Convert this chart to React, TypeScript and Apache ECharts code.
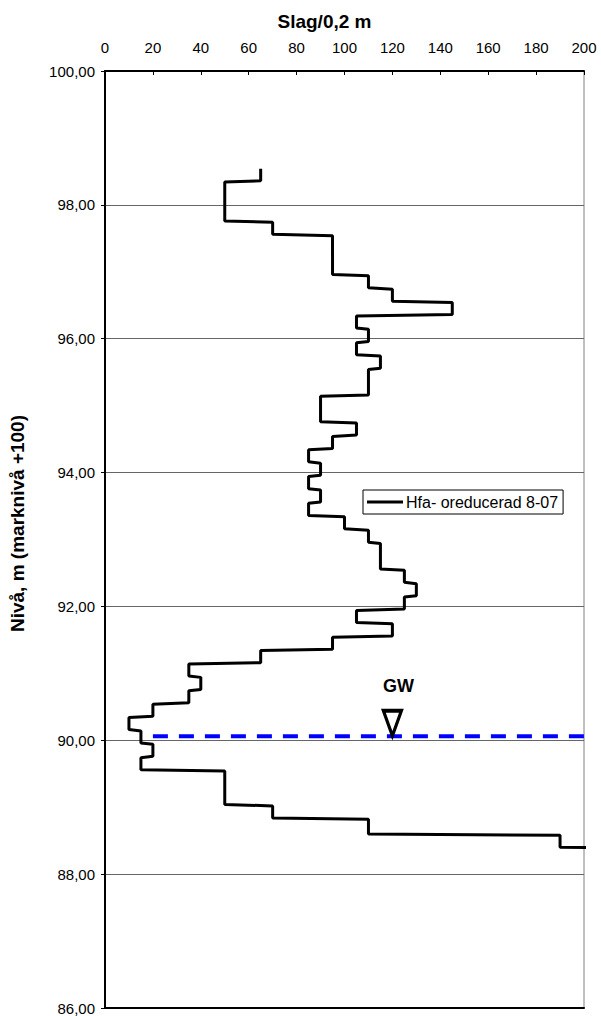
import React, { useEffect, useRef } from "react";
import * as echarts from "echarts";

// Sounding profile: blows per 0.2 m against level (ground level +100)
const blows = [65, 50, 70, 95, 110, 120, 145, 105, 110, 105, 115, 110, 90, 105, 95, 85, 90, 85, 90, 85, 100, 110, 115, 125, 130, 125, 105, 120, 95, 65, 35, 40, 35, 20, 10, 15, 20, 15, 50, 70, 110, 190, 250];
const stepTop = [98.54, 98.34, 97.74, 97.54, 96.94, 96.74, 96.54, 96.34, 96.14, 95.94, 95.74, 95.54, 95.14, 94.74, 94.54, 94.34, 94.14, 93.94, 93.74, 93.54, 93.34, 93.14, 92.94, 92.54, 92.34, 92.14, 91.94, 91.74, 91.54, 91.34, 91.14, 90.94, 90.74, 90.54, 90.34, 90.14, 89.94, 89.74, 89.54, 89.02, 88.82, 88.58, 88.38];
const stepBottom = [98.36, 97.76, 97.56, 96.96, 96.76, 96.56, 96.36, 96.16, 95.96, 95.76, 95.56, 95.16, 94.76, 94.56, 94.36, 94.16, 93.96, 93.76, 93.56, 93.36, 93.16, 92.96, 92.56, 92.36, 92.16, 91.96, 91.76, 91.56, 91.36, 91.16, 90.96, 90.76, 90.56, 90.36, 90.16, 89.96, 89.76, 89.56, 89.04, 88.84, 88.60, 88.40, 88.20];

// Groundwater level
const gwLevel = 90.06;
const gwFrom = 20;
const gwTo = 200;
const gwMarkerAt = 120;

const seriesName = "Hfa- oreducerad 8-07";
const xTitle = "Slag/0,2 m";
const yTitle = "Nivå, m (marknivå +100)";

const FONT = "'Liberation Sans', Arial, sans-serif";

export default function App() {
  const ref = useRef<HTMLDivElement>(null);

  useEffect(() => {
    document.body.style.margin = "0";
    if (!ref.current) return;
    const chart = echarts.init(ref.current, undefined, { renderer: "svg" });

    const profile: [number, number][] = [];
    blows.forEach((b, i) => {
      profile.push([b, stepTop[i]]);
      profile.push([b, stepBottom[i]]);
    });

    chart.setOption({
      animation: false,
      backgroundColor: "#fff",
      textStyle: { fontFamily: FONT },
      grid: {
        left: 100,
        right: 17,
        top: 71,
        bottom: 8,
        show: true,
        borderColor: "#808080",
        borderWidth: 1,
      },
      legend: {
        data: [{ name: seriesName, icon: "rect" }],
        left: 363,
        top: 490,
        orient: "vertical",
        itemWidth: 36,
        itemHeight: 3,
        itemGap: 0,
        padding: [4, 5, 4, 4],
        borderColor: "#000",
        borderWidth: 1,
        backgroundColor: "#fff",
        itemStyle: { color: "#000" },
        textStyle: { fontSize: 16, color: "#000", fontFamily: FONT, padding: [0, 0, 0, -2] },
      },
      xAxis: [
        {
          type: "value",
          position: "top",
          min: 0,
          max: 200,
          interval: 20,
          name: xTitle,
          nameLocation: "middle",
          nameGap: 40,
          nameTextStyle: {
            fontSize: 19,
            fontWeight: "bold",
            color: "#000",
            fontFamily: FONT,
            padding: [0, 40, 0, 0],
          },
          axisLine: { show: true, lineStyle: { color: "#000", width: 2 } },
          axisTick: { show: true, inside: true, length: 4, lineStyle: { color: "#000" } },
          axisLabel: { fontSize: 15, color: "#000", margin: 16, fontFamily: FONT },
          splitLine: { show: false },
        },
        {
          type: "value",
          position: "bottom",
          min: 0,
          max: 200,
          axisLine: { show: true, lineStyle: { color: "#000", width: 2 } },
          axisTick: { show: false },
          axisLabel: { show: false },
          splitLine: { show: false },
        },
      ],
      yAxis: {
        type: "value",
        min: 86,
        max: 100,
        interval: 2,
        name: yTitle,
        nameLocation: "middle",
        nameGap: 78,
        nameRotate: 90,
        nameTextStyle: {
          fontSize: 19,
          fontWeight: "bold",
          color: "#000",
          fontFamily: FONT,
          padding: [0, 0, 0, 32],
        },
        axisLine: { show: true, lineStyle: { color: "#000", width: 2 } },
        axisTick: { show: true, length: 4, lineStyle: { color: "#000" } },
        axisLabel: {
          fontSize: 15,
          color: "#000",
          margin: 10,
          fontFamily: FONT,
          formatter: (v: number) => v.toFixed(2).replace(".", ","),
        },
        splitLine: { show: true, lineStyle: { color: "#666", width: 1 } },
      },
      series: [
        {
          name: seriesName,
          type: "line",
          data: profile,
          showSymbol: false,
          symbol: "none",
          clip: true,
          lineStyle: { color: "#000", width: 3 },
          itemStyle: { color: "#000" },
          z: 3,
        },
        {
          name: "GW",
          type: "line",
          data: [
            [gwFrom, gwLevel],
            [gwTo, gwLevel],
          ],
          showSymbol: false,
          symbol: "none",
          lineStyle: { color: "#0000ff", width: 4, type: [15, 11] },
          z: 4,
        },
        {
          name: "GW-marker",
          type: "scatter",
          data: [[gwMarkerAt, gwLevel]],
          symbol: "path://M0,0 L20,0 L10,27 Z",
          symbolSize: [18, 25],
          symbolOffset: [0, -13],
          itemStyle: { color: "#fff", borderColor: "#000", borderWidth: 3.5, opacity: 1 },
          label: {
            show: true,
            position: "top",
            distance: 14,
            offset: [6, 0],
            formatter: "GW",
            fontSize: 18,
            fontWeight: "bold",
            color: "#000",
            opacity: 1,
            fontFamily: FONT,
          },
          z: 5,
        },
      ],
    });

    return () => chart.dispose();
  }, []);

  return <div ref={ref} style={{ width: 601, height: 1016 }} />;
}
